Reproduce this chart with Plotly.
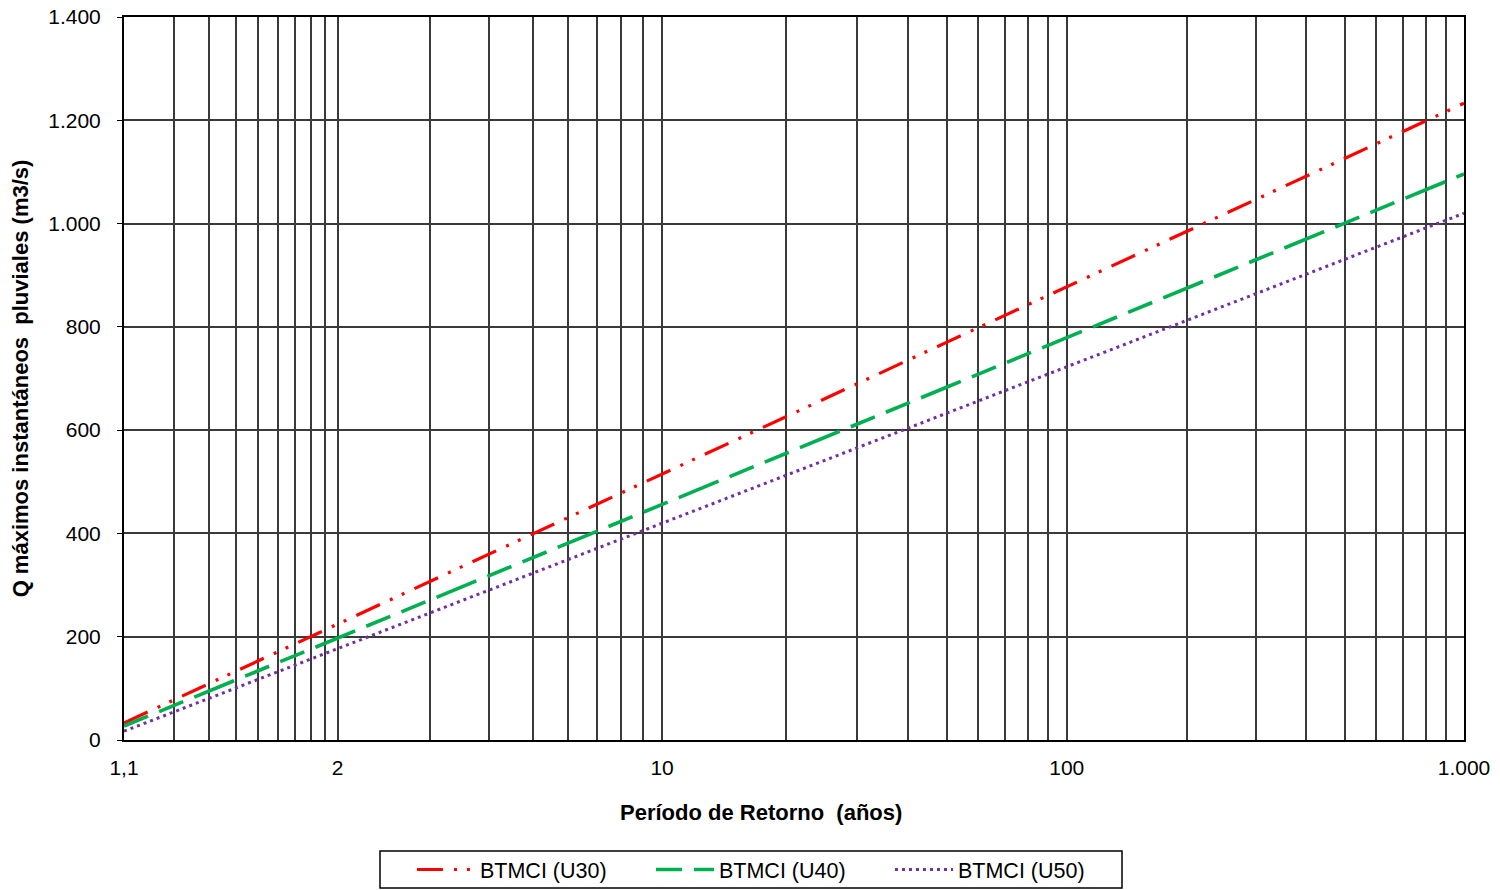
import numpy as np
import plotly.graph_objects as go

# Return periods (years) and flows (m3/s)
periodos = [1.1, 2, 5, 10, 20, 50, 100, 200, 500, 1000]
q_u30 = [33, 224, 399, 515, 626, 770, 878, 985, 1126, 1233]
q_u40 = [27, 197, 353, 456, 555, 683, 779, 875, 1001, 1096]
q_u50 = [17, 177, 324, 420, 513, 633, 723, 813, 931, 1020]

# Axis ticks (Gumbel probability scale of return period)
x_tick_T = [1.1, 2, 10, 100, 1000]
x_tick_text = ["1,1", "2", "10", "100", "1.000"]
x_minor_T = [1.2, 1.3, 1.4, 1.5, 1.6, 1.7, 1.8, 1.9,
             3, 4, 5, 6, 7, 8, 9,
             20, 30, 40, 50, 60, 70, 80, 90,
             200, 300, 400, 500, 600, 700, 800, 900]


def gumbel(t):
    t = np.asarray(t, dtype=float)
    return -np.log(-np.log(1.0 - 1.0 / t))


FONT = "Liberation Sans, Arial, sans-serif"
xs = gumbel(periodos)

fig = go.Figure()
fig.add_trace(go.Scatter(x=xs, y=q_u30, mode="lines", name="BTMCI (U30)",
                         line=dict(color="#ff0000", width=3.2,
                                   dash="26px,11px,3px,10px,3px,11px")))
fig.add_trace(go.Scatter(x=xs, y=q_u40, mode="lines", name="BTMCI (U40)",
                         line=dict(color="#00b050", width=3.6,
                                   dash="26px,12px,26px,12px,43px,12px")))
fig.add_trace(go.Scatter(x=xs, y=q_u50, mode="lines", name="BTMCI (U50)",
                         line=dict(color="#7030a0", width=3,
                                   dash="3px,4px")))

# legend frame
fig.add_shape(type="rect", xref="paper", yref="paper",
              x0=0.19104, x1=0.74478, y0=-0.15353, y1=-0.2047,
              line=dict(color="black", width=1.5), fillcolor="rgba(0,0,0,0)")

# x-axis title (slightly left of centre, as in the original)
fig.add_annotation(xref="paper", yref="paper", x=0.4754, y=-0.0996,
                   xanchor="center", yanchor="middle", showarrow=False,
                   text="<b>Período de Retorno  (años)</b>",
                   font=dict(family=FONT, size=22, color="black"))

fig.update_layout(
    width=1492, height=882,
    paper_bgcolor="white", plot_bgcolor="white",
    margin=dict(l=116, r=36, t=9, b=150, autoexpand=False),
    separators=",.",
    font=dict(family=FONT, size=21, color="black"),
    showlegend=True,
    legend=dict(orientation="h", x=0.2149, xanchor="left", y=-0.1508,
                yanchor="top", borderwidth=0,
                font=dict(family=FONT, size=21.5, color="black"),
                itemwidth=58, entrywidth=166, bgcolor="rgba(0,0,0,0)"),
)

fig.update_xaxes(
    automargin=False,
    range=[float(gumbel(1.1)), float(gumbel(1000))],
    tickmode="array", tickvals=list(gumbel(x_tick_T)), ticktext=x_tick_text,
    showgrid=True, gridcolor="#3a3a3a", gridwidth=1.5,
    minor=dict(tickmode="array", tickvals=list(gumbel(x_minor_T)),
               showgrid=True, gridcolor="#3a3a3a", gridwidth=1.5),
    showline=True, linecolor="black", linewidth=2, mirror=True,
    ticks="", ticklabelstandoff=8, ticklabeloverflow="allow",
    zeroline=False,
)
fig.update_yaxes(
    automargin=False,
    range=[0, 1400], dtick=200, tickformat=",d",
    showgrid=True, gridcolor="#3a3a3a", gridwidth=1.5,
    showline=True, linecolor="black", linewidth=2, mirror=True,
    ticks="outside", ticklen=5, tickcolor="black", ticklabelstandoff=12,
    ticklabeloverflow="allow",
    zeroline=False,
    title=dict(text="<b>Q máximos instantáneos  pluviales (m3/s)</b>",
               standoff=15, font=dict(family=FONT, size=22)),
)

fig.write_html("out.html")
